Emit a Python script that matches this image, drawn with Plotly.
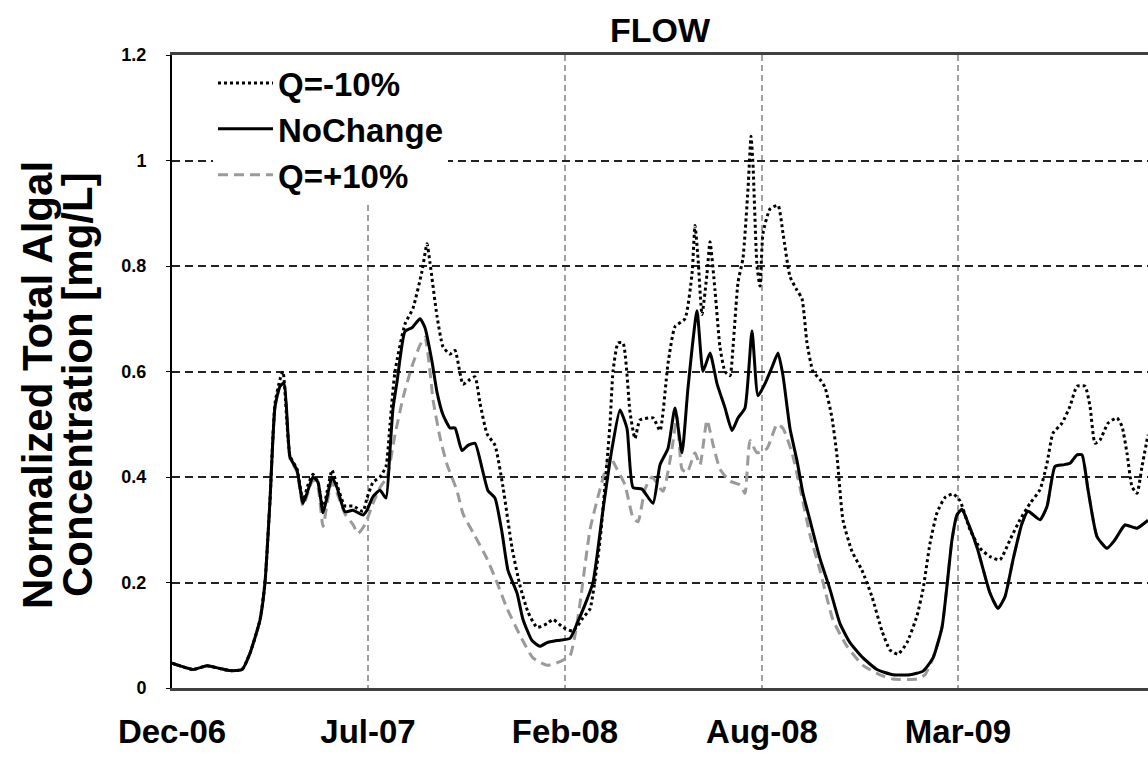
import plotly.graph_objects as go

# Time axis: model day index from start of record (Dec-06)
tick_days = [0, 196, 393, 590, 786]
tick_labels = ["Dec-06", "Jul-07", "Feb-08", "Aug-08", "Mar-09"]

# NoChange scenario (solid black)
base_day = [0, 8, 21, 35, 48, 58, 70, 78, 88, 93, 98, 103, 108, 112, 118, 125, 131, 136, 141, 146,
            151, 156, 160, 165, 173, 181, 191, 195, 201, 208, 214, 218, 221, 225, 233, 240, 248, 253,
            260, 265, 271, 278, 283, 290, 296, 303, 310, 316, 323, 330, 336, 345, 351, 360, 368, 375,
            385, 398, 405, 413, 421, 431, 440, 448, 455, 461, 470, 481, 488, 496, 503, 510, 516, 525,
            531, 538, 545, 553, 560, 566, 573, 580, 586, 593, 600, 606, 611, 618, 625, 631, 638, 648,
            658, 668, 678, 691, 705, 721, 738, 751, 761, 770, 775, 780, 785, 790, 795, 805, 818, 826,
            833, 841, 850, 856, 868, 875, 883, 891, 898, 905, 910, 916, 925, 935, 943, 953, 965, 976]
base_conc = [0.047, 0.042, 0.035, 0.042, 0.037, 0.033, 0.035, 0.066, 0.129, 0.2, 0.356, 0.533, 0.572,
             0.578, 0.438, 0.413, 0.35, 0.375, 0.40, 0.39, 0.332, 0.37, 0.40, 0.38, 0.334, 0.337,
             0.328, 0.337, 0.363, 0.375, 0.36, 0.451, 0.53, 0.58, 0.676, 0.683, 0.70, 0.683, 0.619,
             0.561, 0.518, 0.493, 0.493, 0.45, 0.46, 0.464, 0.417, 0.374, 0.36, 0.295, 0.223, 0.18,
             0.13, 0.09, 0.079, 0.086, 0.09, 0.094, 0.122, 0.158, 0.2, 0.338, 0.454, 0.527, 0.492,
             0.38, 0.377, 0.35, 0.423, 0.454, 0.531, 0.446, 0.569, 0.715, 0.60, 0.635, 0.577, 0.531,
             0.488, 0.512, 0.531, 0.677, 0.554, 0.577, 0.608, 0.635, 0.592, 0.492, 0.431, 0.369,
             0.318, 0.245, 0.187, 0.122, 0.086, 0.057, 0.035, 0.025, 0.025, 0.032, 0.057, 0.115,
             0.194, 0.281, 0.328, 0.339, 0.318, 0.267, 0.18, 0.151, 0.173, 0.243, 0.312, 0.335,
             0.319, 0.344, 0.42, 0.423, 0.426, 0.442, 0.442, 0.376, 0.287, 0.265, 0.281, 0.309,
             0.303, 0.318]

# Q=-10% scenario (dotted black)
low_day = [0, 8, 21, 35, 48, 58, 70, 78, 88, 93, 98, 103, 108, 111, 118, 125, 131, 136, 141, 146,
           151, 156, 160, 165, 173, 181, 191, 195, 201, 208, 214, 218, 223, 233, 241, 250, 255, 258,
           265, 271, 278, 283, 291, 298, 303, 308, 315, 323, 331, 340, 348, 356, 365, 375, 381, 391,
           401, 411, 418, 428, 438, 441, 446, 451, 458, 463, 468, 481, 488, 496, 503, 513, 520, 523,
           526, 530, 535, 538, 543, 548, 553, 558, 561, 566, 571, 576, 579, 581, 585, 588, 591, 598,
           606, 611, 618, 625, 630, 635, 641, 648, 653, 660, 665, 671, 680, 690, 700, 710, 718, 726,
           735, 745, 751, 758, 765, 773, 781, 788, 798, 808, 818, 828, 838, 848, 858, 868, 875, 881,
           890, 898, 905, 913, 918, 923, 928, 936, 945, 950, 955, 960, 965, 970, 976]
low_conc = [0.047, 0.042, 0.035, 0.042, 0.037, 0.033, 0.035, 0.066, 0.129, 0.2, 0.356, 0.54, 0.585,
            0.60, 0.44, 0.415, 0.355, 0.385, 0.405, 0.39, 0.34, 0.38, 0.413, 0.385, 0.345, 0.345,
            0.335, 0.36, 0.39, 0.40, 0.42, 0.50, 0.60, 0.69, 0.72, 0.79, 0.842, 0.806, 0.705, 0.647,
            0.633, 0.64, 0.576, 0.585, 0.59, 0.54, 0.482, 0.46, 0.381, 0.266, 0.194, 0.144, 0.115,
            0.122, 0.13, 0.115, 0.108, 0.133, 0.15, 0.28, 0.5, 0.6, 0.654, 0.654, 0.523, 0.473,
            0.508, 0.512, 0.488, 0.615, 0.685, 0.70, 0.785, 0.877, 0.815, 0.708, 0.785, 0.846,
            0.754, 0.646, 0.60, 0.592, 0.646, 0.769, 0.815, 0.946, 1.046, 0.992, 0.80, 0.762, 0.862,
            0.908, 0.915, 0.862, 0.78, 0.754, 0.738, 0.654, 0.60, 0.585, 0.57, 0.512, 0.44, 0.318,
            0.259, 0.223, 0.173, 0.108, 0.072, 0.064, 0.086, 0.137, 0.187, 0.274, 0.332, 0.361,
            0.368, 0.355, 0.30, 0.265, 0.249, 0.243, 0.281, 0.319, 0.35, 0.376, 0.426, 0.483, 0.502,
            0.534, 0.572, 0.572, 0.534, 0.464, 0.47, 0.502, 0.512, 0.496, 0.445, 0.382, 0.369, 0.42,
            0.48]

# Q=+10% scenario (grey dashed)
high_day = [0, 8, 21, 35, 48, 58, 70, 78, 88, 93, 98, 103, 108, 112, 118, 125, 131, 136, 141, 146,
            151, 156, 160, 165, 173, 181, 186, 193, 201, 208, 215, 223, 231, 240, 248, 253, 258, 261,
            268, 275, 285, 291, 301, 315, 325, 335, 348, 361, 375, 388, 398, 403, 408, 418, 428, 438,
            445, 453, 461, 466, 473, 480, 491, 500, 505, 510, 515, 523, 528, 535, 541, 548, 558, 568,
            573, 578, 585, 595, 605, 611, 620, 628, 638, 648, 661, 675, 691, 708, 721, 745, 753, 761,
            770, 775, 780, 785, 790, 795, 805, 818, 826, 833, 841, 850, 856, 868, 875, 883, 891, 898,
            905, 910, 916, 925, 935, 943, 953, 965, 976]
high_conc = [0.047, 0.042, 0.035, 0.042, 0.037, 0.033, 0.035, 0.066, 0.129, 0.2, 0.356, 0.533, 0.572,
             0.578, 0.435, 0.41, 0.345, 0.37, 0.395, 0.38, 0.306, 0.36, 0.39, 0.37, 0.33, 0.31, 0.293,
             0.31, 0.35, 0.38, 0.40, 0.48, 0.55, 0.61, 0.65, 0.665, 0.6, 0.547, 0.475, 0.424, 0.374,
             0.33, 0.295, 0.245, 0.2, 0.151, 0.10, 0.057, 0.043, 0.05, 0.061, 0.10, 0.16, 0.30, 0.377,
             0.438, 0.415, 0.385, 0.323, 0.315, 0.377, 0.40, 0.373, 0.454, 0.515, 0.415, 0.408, 0.446,
             0.423, 0.508, 0.462, 0.415, 0.392, 0.385, 0.369, 0.469, 0.446, 0.454, 0.50, 0.492, 0.446,
             0.38, 0.29, 0.223, 0.129, 0.079, 0.043, 0.025, 0.017, 0.017, 0.025, 0.057, 0.115, 0.194,
             0.281, 0.328, 0.339, 0.318, 0.267, 0.18, 0.151, 0.173, 0.243, 0.312, 0.335, 0.319, 0.344,
             0.42, 0.423, 0.426, 0.442, 0.442, 0.376, 0.287, 0.265, 0.281, 0.309, 0.303, 0.318]

FONT = "Liberation Sans, Arial, sans-serif"

fig = go.Figure()

# grey first so the black lines sit on top; legend order reversed below
fig.add_trace(go.Scatter(
    x=high_day, y=high_conc, name="Q=+10%", mode="lines",
    line=dict(color="#9a9a9a", width=3, dash="10px,6px", shape="spline", smoothing=0.5),
))
fig.add_trace(go.Scatter(
    x=base_day, y=base_conc, name="NoChange", mode="lines",
    line=dict(color="black", width=3, shape="spline", smoothing=0.5),
))
fig.add_trace(go.Scatter(
    x=low_day, y=low_conc, name="Q=-10%", mode="lines",
    line=dict(color="black", width=3, dash="dot", shape="spline", smoothing=0.5),
))

fig.update_layout(
    width=1148,
    height=759,
    margin=dict(l=172, r=0, t=55, b=71),
    paper_bgcolor="white",
    plot_bgcolor="white",
    font=dict(family=FONT, color="black"),
    title=dict(
        text="FLOW", xref="container", x=0.575, xanchor="center",
        yref="container", y=0.96, yanchor="middle",
        font=dict(size=34, weight="bold", family=FONT),
    ),
    legend=dict(
        x=0.042, y=1.0, xanchor="left", yanchor="top",
        bgcolor="white", borderwidth=0, traceorder="reversed",
        font=dict(size=33, weight="bold", family=FONT),
        itemwidth=55,
    ),
)

fig.update_xaxes(
    range=[0, 976],
    tickvals=tick_days,
    ticktext=tick_labels,
    ticks="",
    ticklabelstandoff=12,
    tickfont=dict(size=33, weight="bold", family=FONT),
    showgrid=True, gridcolor="#a0a0a0", gridwidth=1.5, griddash="6px,4px",
    showline=True, linecolor="#404040", linewidth=3, mirror=True,
    zeroline=False,
)

fig.update_yaxes(
    range=[0, 1.2],
    tickvals=[0, 0.2, 0.4, 0.6, 0.8, 1.0, 1.2],
    ticktext=["0", "0.2", "0.4", "0.6", "0.8", "1", "1.2"],
    ticks="outside", ticklen=4, tickcolor="black",
    tickfont=dict(size=18, weight="bold", family=FONT),
    ticklabelstandoff=16,
    showgrid=True, gridcolor="#222222", gridwidth=1.5, griddash="8px,5px",
    showline=True, linecolor="black", linewidth=2,
    zeroline=False,
)

# two-line y axis title
for xpos, txt in [(37, "Normalized Total Algal"), (77, "Concentration [mg/L]")]:
    fig.add_annotation(
        text=txt, xref="paper", yref="paper",
        x=(xpos - 172) / 976, y=(688 - 385) / 633,
        xanchor="center", yanchor="middle", showarrow=False, textangle=-90,
        font=dict(size=42, weight="bold", family=FONT, color="black"),
    )

# drop the default page margin so the figure fills the window exactly
fig.write_html(
    "out.html",
    config={"displayModeBar": False},
    post_script="document.body.style.margin='0';",
)
